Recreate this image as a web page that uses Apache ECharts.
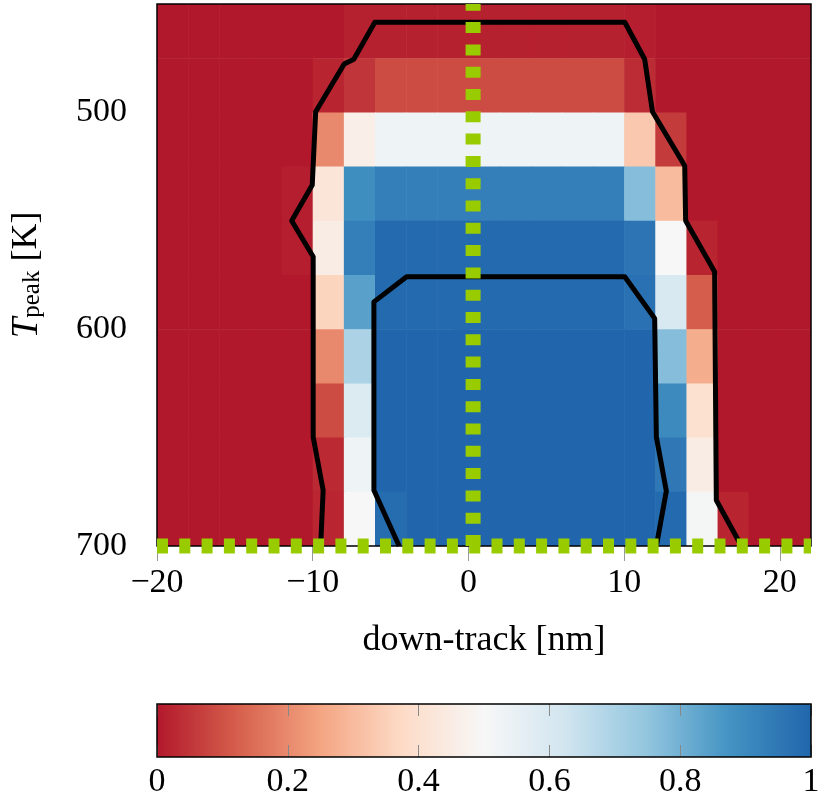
<!DOCTYPE html>
<html>
<head>
<meta charset="utf-8">
<script src="https://cdn.jsdelivr.net/npm/echarts@6/dist/echarts.min.js"></script>
<style>
html,body{margin:0;padding:0;background:#fff;}
#chart{width:832px;height:805px;}
</style>
</head>
<body>
<div id="chart"></div>
<script>
// ---------- data ----------
// cell centres along down-track [nm] (cells are 2 nm wide)
const downTrack = [-19,-17,-15,-13,-11,-9,-7,-5,-3,-1,1,3,5,7,9,11,13,15,17,19,21];
// cell centres along T_peak [K] (cells are 25 K tall)
const tPeak = [462.5,487.5,512.5,537.5,562.5,587.5,612.5,637.5,662.5,687.5];
const cellW = 2, cellH = 25;

// one array per temperature row, values per down-track column
const row462 = [0,0,0,0,0,0,0.015,0.015,0.015,0.015,0.015,0.015,0.015,0.015,0.015,0.01,0,0,0,0,0];
const row487 = [0,0,0,0,0,0.02,0.05,0.09,0.09,0.09,0.09,0.09,0.09,0.09,0.09,0.035,0,0,0,0,0];
const row512 = [0,0,0,0,0,0.2,0.46,0.53,0.53,0.53,0.53,0.53,0.53,0.53,0.53,0.33,0.06,0,0,0,0];
const row537 = [0,0,0,0,0.01,0.42,0.89,0.93,0.93,0.93,0.93,0.93,0.93,0.93,0.93,0.77,0.3,0,0,0,0];
const row562 = [0,0,0,0,0.01,0.45,0.93,0.99,0.99,0.99,0.99,0.99,0.99,0.99,0.99,0.96,0.5,0.02,0,0,0];
const row587 = [0,0,0,0,0,0.36,0.84,0.99,0.99,0.99,0.99,0.99,0.99,0.99,0.99,0.97,0.6,0.12,0,0,0];
const row612 = [0,0,0,0,0,0.2,0.7,1,1,1,1,1,1,1,1,1,0.77,0.27,0,0,0];
const row637 = [0,0,0,0,0,0.09,0.59,1,1,1,1,1,1,1,1,1,0.9,0.4,0,0,0];
const row662 = [0,0,0,0,0,0.03,0.53,1,1,1,1,1,1,1,1,1,0.95,0.45,0,0,0];
const row687 = [0,0,0,0,0,0.025,0.5,0.98,1,1,1,1,1,1,1,1,0.99,0.51,0.02,0,0];
const rows = [row462,row487,row512,row537,row562,row587,row612,row637,row662,row687];

// contour lines [down-track, T_peak]
const outerContour = [
  [-9.49,700],[-9.33,674.3],[-9.97,649.7],[-9.97,566.6],[-11.35,550],[-10.03,533.5],
  [-9.81,499.7],[-7.98,477.7],[-7.36,475.5],[-6.01,458.4],[10.04,458.4],[11.32,475.5],
  [11.82,499.7],[13.89,524.6],[13.95,550],[15.81,573.5],[15.92,678.9],[17.53,700]
];
const innerContour = [
  [-4.45,700],[-6.07,674.3],[-6.07,624.9],[-6.07,587.4],[-3.97,575.8],[10.04,575.8],
  [11.96,595.0],[12.07,649.7],[12.71,674.6],[12.07,700]
];
// green reference lines
const vLine = [[0.3,700],[0.3,450]];
const hLine = [[-20,700],[22,700]];

const xTicks = [-20,-10,0,10,20];
const yTicks = [500,600,700];
const cbTicks = [0,0.2,0.4,0.6,0.8,1];

const rdbu = ['#b2182b','#d6604d','#f4a582','#fddbc7','#f7f7f7','#d1e5f0','#92c5de','#4393c3','#2166ac'];

// ---------- build ----------
const cells = [];
rows.forEach((r, i) => r.forEach((v, j) => cells.push([downTrack[j], tPeak[i], v])));

const FONT = '"Liberation Serif", "DejaVu Serif", serif';
const chart = echarts.init(document.getElementById('chart'), null, {renderer: 'canvas'});

chart.setOption({
  animation: false,
  backgroundColor: '#fff',
  grid: [
    {left: 157, top: 4, width: 654, height: 542, show: true, borderColor: '#000', borderWidth: 1.5,
     backgroundColor: 'transparent', z: 4, containLabel: false, outerBoundsMode: 'none'},
    {left: 157, top: 704, width: 654, height: 53, show: true, borderColor: '#000', borderWidth: 1.5,
     backgroundColor: 'transparent', z: 12, containLabel: false, outerBoundsMode: 'none'}
  ],
  xAxis: [
    {
      gridIndex: 0, type: 'value', min: -20, max: 22,
      name: 'down-track [nm]', nameLocation: 'middle', nameGap: 77,
      nameTextStyle: {fontFamily: FONT, fontSize: 36, color: '#000'},
      axisLine: {show: false},
      splitLine: {show: false},
      axisTick: {show: true, inside: false, length: 15, customValues: xTicks, lineStyle: {color: '#999', width: 1}},
      axisLabel: {customValues: xTicks, margin: 20, fontFamily: FONT, fontSize: 34, color: '#000',
        formatter: v => String(v).replace('-', '\u2212')}
    },
    {
      gridIndex: 1, type: 'value', min: 0, max: 1, position: 'bottom', z: 10,
      axisLine: {show: false}, splitLine: {show: false},
      axisTick: {show: true, inside: true, length: 12, customValues: cbTicks, lineStyle: {color: '#888', width: 1}},
      axisLabel: {customValues: cbTicks, margin: 8, fontFamily: FONT, fontSize: 34, color: '#000',
        formatter: v => String(v)}
    },
    {
      gridIndex: 1, type: 'value', min: 0, max: 1, position: 'top', z: 10,
      axisLine: {show: false}, splitLine: {show: false},
      axisTick: {show: true, inside: true, length: 12, customValues: cbTicks, lineStyle: {color: '#888', width: 1}},
      axisLabel: {show: false}
    }
  ],
  yAxis: [
    {
      gridIndex: 0, type: 'value', min: 450, max: 700, inverse: true,
      name: '{it|T}{sub|peak}{rm| [K]}', nameLocation: 'middle', nameGap: 112, nameRotate: 90,
      nameTextStyle: {
        color: '#000',
        rich: {
          it: {fontFamily: FONT, fontStyle: 'italic', fontSize: 37, color: '#000', verticalAlign: 'top', lineHeight: 36},
          sub: {fontFamily: FONT, fontSize: 25, color: '#000', verticalAlign: 'bottom', lineHeight: 25, padding: [20, 0, 0, 0]},
          rm: {fontFamily: FONT, fontSize: 36, color: '#000', verticalAlign: 'top', lineHeight: 36}
        }
      },
      axisLine: {show: false}, splitLine: {show: false},
      axisTick: {show: true, inside: false, length: 15, customValues: yTicks, lineStyle: {color: '#999', width: 1}},
      axisLabel: {customValues: yTicks, margin: 30, fontFamily: FONT, fontSize: 34, color: '#000'}
    },
    {
      gridIndex: 1, type: 'value', min: 0, max: 1, show: false
    }
  ],
  visualMap: {
    type: 'continuous', min: 0, max: 1, dimension: 2, seriesIndex: 0,
    orient: 'horizontal', left: 152, top: 699, padding: 5,
    itemWidth: 53, itemHeight: 654, calculable: false, hoverLink: false,
    text: null, showLabel: false, realtime: false,
    inRange: {color: rdbu}
  },
  series: [
    {
      type: 'custom', xAxisIndex: 0, yAxisIndex: 0, clip: true, z: 2,
      encode: {x: 0, y: 1},
      data: cells,
      renderItem: function (params, api) {
        const xc = api.value(0), yc = api.value(1);
        const p0 = api.coord([xc - cellW / 2, yc - cellH / 2]);
        const p1 = api.coord([xc + cellW / 2, yc + cellH / 2]);
        return {
          type: 'rect',
          shape: {x: Math.min(p0[0], p1[0]), y: Math.min(p0[1], p1[1]),
                  width: Math.abs(p1[0] - p0[0]) + 0.6, height: Math.abs(p1[1] - p0[1]) + 0.6},
          style: {fill: api.visual('color')}
        };
      }
    },
    {
      type: 'line', xAxisIndex: 0, yAxisIndex: 0, data: outerContour, symbol: 'none', clip: true, z: 3,
      lineStyle: {color: '#000', width: 5, join: 'round'}
    },
    {
      type: 'line', xAxisIndex: 0, yAxisIndex: 0, data: innerContour, symbol: 'none', clip: true, z: 3,
      lineStyle: {color: '#000', width: 5, join: 'round'}
    },
    {
      type: 'line', xAxisIndex: 0, yAxisIndex: 0, data: vLine, symbol: 'none', clip: false, z: 5,
      lineStyle: {color: '#99cc00', width: 15, type: [11, 11.3], cap: 'butt'}
    },
    {
      type: 'line', xAxisIndex: 0, yAxisIndex: 0, data: hLine, symbol: 'none', clip: false, z: 5,
      lineStyle: {color: '#99cc00', width: 15, type: [11, 11.3], cap: 'butt'}
    }
  ]
});
</script>
</body>
</html>
